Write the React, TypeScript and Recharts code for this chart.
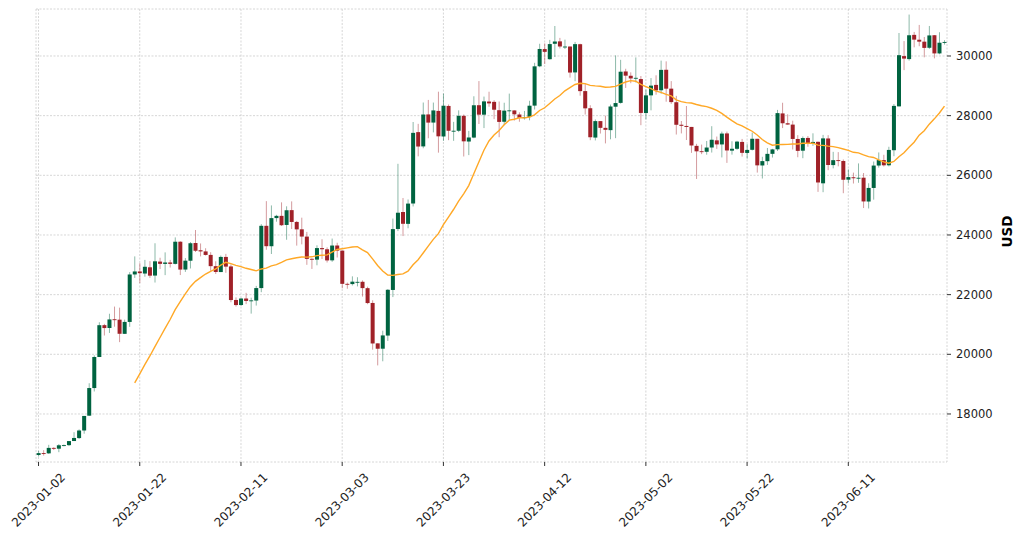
import React from 'react';
import { ComposedChart, Bar, Line, XAxis, YAxis, CartesianGrid } from 'recharts';

// Daily BTC-USD candles, 2023-01-02 .. 2023-06-30
const START_DATE = '2023-01-02';

const OPENS = [
  // Jan
  16625,16688,16680,16863,16836,16953,16955,17093,17192,17446,17943,18869,19910,20977,20882,21175,21161,20686,21085,22677,22777,22707,22917,22639,23108,23030,23079,23031,23774,22841,
  // Feb
  23137,23731,23489,23449,23332,22954,22757,23264,22946,21821,21652,21870,21787,21802,22220,24307,23623,24566,24641,24336,24833,24437,24190,23946,23201,23174,23561,23521,
  // Mar
  23150,23647,23476,22362,22354,22429,22431,22217,21721,20367,20188,20628,22157,24201,24770,24373,25055,27448,26969,28041,27768,28159,27302,28325,27486,27493,27994,27132,27265,28350,28032,
  // Apr
  28473,28462,28183,27795,28169,28175,28038,27920,27952,28336,29655,30231,29892,30409,30490,30315,30317,29449,30395,28823,28249,27265,27817,27591,27514,28300,28428,29481,29337,29245,
  // May
  29227,28087,28680,29031,28851,29538,28905,28450,27695,27655,27622,26987,26807,26789,26932,27172,27035,27404,26827,26889,27119,26750,26855,27224,26330,26474,26720,26872,28075,27745,27700,
  // Jun
  27218,26825,27253,27076,27123,25732,27235,26343,26508,26481,25854,25935,25902,25920,25121,25576,26328,26511,26336,26841,28311,29996,29896,30708,30545,30480,30275,30696,30086,30441,
];

const HIGHS = [
  16760,16786,16965,16884,16991,16975,17091,17389,17484,17934,19031,19964,21075,21020,21360,21600,21564,21163,22755,23282,23056,23165,23123,23722,23237,23417,23165,23919,23789,23225,
  23764,24167,23715,23556,23423,23119,23310,23367,23011,21907,21891,22060,21898,22293,24363,25134,24991,24675,25093,24961,25126,24472,24580,24103,23219,23654,23857,23585,
  23880,23739,23479,22405,22613,22584,22477,22267,21811,20370,20792,22185,24550,26386,25240,25190,27787,27725,28440,28527,28439,28803,28739,28374,27792,28178,28037,27488,28649,29159,28639,
  28802,28518,28475,28433,28739,28178,28111,28159,28499,29771,30410,30423,30539,31005,30607,30548,30319,30470,30411,29076,28349,27872,27820,28000,28371,30020,29871,29572,29452,29952,
  29329,28881,29259,29353,29845,29820,29157,28663,27821,28323,27622,27055,27030,27151,27646,27299,27465,27466,27142,27156,27219,27045,27434,27224,26621,26916,26888,28193,28432,28045,27831,
  27346,27303,27317,27408,27129,27355,27346,26787,26777,26531,26200,26090,26399,26077,25734,26463,26767,26688,26957,28390,30770,30500,31389,30806,31041,30636,31006,30703,30796,30530,
];

const LOWS = [
  16573,16605,16662,16791,16719,16915,16925,17093,17163,17337,17935,18754,19908,20630,20716,20925,20408,20685,20921,22562,22387,22601,22560,22406,22858,22654,22908,23012,22657,22762,
  22877,23429,23282,23308,22798,22692,22756,22731,21745,21599,21619,21682,21364,21633,22082,23505,23362,24445,24300,23840,24200,23644,23686,22999,22861,22984,23195,23077,
  23100,23245,22213,22198,22307,22276,21935,21680,20156,19628,19766,20448,21918,24130,23964,24225,24956,26636,26907,27242,27439,26760,27155,27178,27156,27448,26631,26677,27243,27720,27583,
  28298,27884,27277,27681,27843,27835,27795,27869,27844,28206,29624,29730,29878,29966,30252,30234,29275,29154,28669,28037,27177,27169,27400,27070,27207,27246,28402,28929,29088,29111,
  27680,27873,28178,28702,28736,28468,28395,27367,27404,27183,26753,25878,26710,26690,26763,26886,26600,26416,26692,26855,26628,26557,26833,26091,25893,26347,26596,26816,27583,27696,26866,
  26606,26574,26958,26987,25445,25434,26172,26233,26301,25400,25727,25725,25750,24903,24889,25183,26258,26295,26299,26640,28311,29526,29845,30290,30327,29955,30237,29920,30058,30380,
];

const CLOSES = [
  16688,16680,16863,16836,16951,16955,17091,17196,17446,17934,18869,19909,20976,20880,21169,21161,20688,21086,22676,22777,22720,22934,22636,23117,23032,23078,23031,23774,22840,23139,
  23723,23471,23449,23331,22955,22760,23264,22939,21819,21651,21870,21788,21808,22220,24307,23624,24565,24641,24327,24829,24436,24188,23947,23198,23175,23561,23522,23147,
  23646,23475,22362,22354,22435,22429,22219,21718,20363,20187,20633,22163,24197,24746,24375,25052,27423,26965,28038,27767,28175,27307,28333,27493,27494,27994,27139,27268,28348,28033,28478,
  28411,28199,27790,28168,28177,28044,27925,27947,28333,29653,30235,30139,30399,30485,30318,30316,29445,30397,28822,28245,27276,27817,27591,27525,28307,28422,29473,29340,29248,29268,
  28091,28680,29006,28847,29534,28904,28454,27694,27659,27621,27000,26804,26784,26931,27192,27036,27399,26833,26890,27130,26753,26851,27225,26334,26476,26719,26868,28085,27745,27702,27219,
  26819,27249,27075,27119,25760,27238,26346,26508,26480,25851,25940,25902,25918,25124,25577,26327,26510,26336,26851,28327,30027,29912,30695,30548,30480,30271,30689,30086,30445,30470,
];

const MA_WINDOW = 20;

const X_TICKS = [
  '2023-01-02', '2023-01-22', '2023-02-11', '2023-03-03', '2023-03-23',
  '2023-04-12', '2023-05-02', '2023-05-22', '2023-06-11',
];
const Y_TICKS = [18000, 20000, 22000, 24000, 26000, 28000, 30000];
const Y_DOMAIN = [16390, 31575];

const UP = '#006340';
const DOWN = '#a02128';
const MA_COLOR = '#FFA826';
const FONT = '"DejaVu Sans", sans-serif';

const dateAt = (i: number) => {
  const t = Date.parse(START_DATE + 'T00:00:00Z') + i * 86400000;
  return new Date(t).toISOString().slice(0, 10);
};

const data = CLOSES.map((close, i) => {
  let ma: number | null = null;
  if (i >= MA_WINDOW - 1) {
    let s = 0;
    for (let k = i - MA_WINDOW + 1; k <= i; k++) s += CLOSES[k];
    ma = s / MA_WINDOW;
  }
  return {
    date: dateAt(i),
    open: OPENS[i],
    high: HIGHS[i],
    low: LOWS[i],
    close,
    range: [LOWS[i], HIGHS[i]],
    ma,
  };
});

const Candle = (props: any) => {
  const { x, y, width, height, payload } = props;
  if (!payload || x == null || y == null) return null;
  const { open, close, high, low } = payload;
  const top = Math.min(y, y + height);
  const bottom = Math.max(y, y + height);
  const span = high - low;
  const pix = (v: number) => (span === 0 ? top : top + ((high - v) / span) * (bottom - top));
  const color = close >= open ? UP : DOWN;
  const cx = x + width / 2;
  const bTop = pix(Math.max(open, close));
  const bBot = pix(Math.min(open, close));
  return (
    <g>
      <line x1={cx} x2={cx} y1={top} y2={bottom} stroke={color} strokeOpacity={0.45} strokeWidth={1} />
      <rect x={cx - width / 2} y={bTop} width={width} height={Math.max(bBot - bTop, 0.9)} fill={color} />
    </g>
  );
};

const XTick = (props: any) => {
  const { x, y, payload } = props;
  const cx = x;
  const cy = y + 32;
  return (
    <text
      x={cx}
      y={cy}
      transform={`rotate(-45, ${cx}, ${cy})`}
      textAnchor="middle"
      dominantBaseline="central"
      fontSize={12}
      fill="#222"
      fontFamily={FONT}
    >
      {payload.value}
    </text>
  );
};

const UsdLabel = (props: any) => {
  const vb = props.viewBox || {};
  const cx = (vb.x ?? 947) + 60;
  const cy = (vb.y ?? 9) + (vb.height ?? 453) / 2 - 4;
  return (
    <text
      x={cx}
      y={cy}
      transform={`rotate(-90, ${cx}, ${cy})`}
      textAnchor="middle"
      dominantBaseline="central"
      fontSize={13.5}
      fontWeight="bold"
      fill="#000"
      fontFamily={FONT}
    >
      USD
    </text>
  );
};

export default function App() {
  return (
    <div style={{ position: 'fixed', left: 0, top: 0, width: 1024, height: 538, background: '#fff' }}>
      <ComposedChart
        width={1024}
        height={538}
        data={data}
        margin={{ top: 9, right: 0, bottom: 0, left: 36 }}
        barCategoryGap="12%"
      >
        <CartesianGrid stroke="#cccccc" strokeDasharray="2 1.5" strokeWidth={0.8} />
        <XAxis
          dataKey="date"
          type="category"
          ticks={X_TICKS}
          interval={0}
          height={76}
          axisLine={false}
          tickSize={4}
          tickLine={{ stroke: '#333' }}
          tick={<XTick />}
        />
        <YAxis
          orientation="right"
          domain={Y_DOMAIN}
          ticks={Y_TICKS}
          allowDataOverflow
          width={77}
          axisLine={false}
          tickSize={4}
          tickMargin={5}
          tickLine={{ stroke: '#333' }}
          tick={{ fill: '#222', fontSize: 11.5, fontFamily: FONT }}
          label={<UsdLabel />}
        />
        <Bar dataKey="range" shape={(p: any) => <Candle {...p} />} isAnimationActive={false} />
        <Line
          dataKey="ma"
          type="linear"
          stroke={MA_COLOR}
          strokeWidth={1.4}
          dot={false}
          activeDot={false}
          isAnimationActive={false}
        />
      </ComposedChart>
    </div>
  );
}
